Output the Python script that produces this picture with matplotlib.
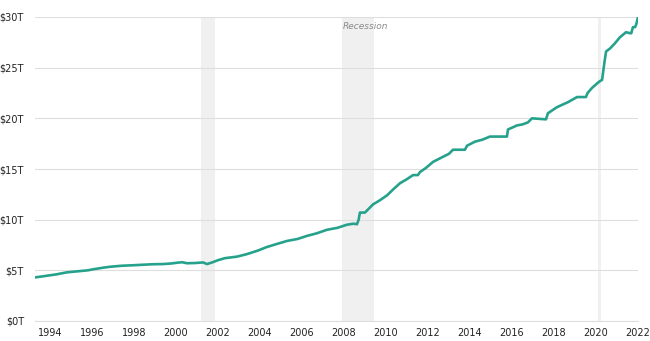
import matplotlib
matplotlib.use('Agg')
from matplotlib import pyplot as plt
from matplotlib.ticker import FuncFormatter

# total public debt, trillions of dollars
years = [
    1993.29, 1993.8, 1994.3, 1994.8, 1995.3, 1995.8, 1996.05, 1996.5, 1996.86,
    1997.4, 1997.95, 1998.4, 1998.9, 1999.4, 1999.8, 2000.05, 2000.3, 2000.52,
    2000.9, 2001.29, 2001.48, 2001.75, 2002.0, 2002.33, 2002.9, 2003.38,
    2003.9, 2004.33, 2004.8, 2005.29, 2005.8, 2006.24, 2006.7, 2007.19,
    2007.7, 2008.14, 2008.45, 2008.62, 2008.7, 2008.76, 2009.0, 2009.38,
    2009.7, 2010.05, 2010.35, 2010.67, 2011.0, 2011.29, 2011.52, 2011.62,
    2011.9, 2012.24, 2012.71, 2013.0, 2013.19, 2013.76, 2013.86, 2014.24,
    2014.6, 2014.95, 2015.76, 2015.81, 2016.24, 2016.5, 2016.76, 2016.95,
    2017.62, 2017.71, 2018.14, 2018.67, 2019.1, 2019.52, 2019.6, 2019.81,
    2020.14, 2020.29, 2020.4, 2020.48, 2020.67, 2020.9, 2021.14, 2021.43,
    2021.62, 2021.68, 2021.76, 2021.86, 2021.92, 2022.0,
]
debt = [
    4.3, 4.45, 4.6, 4.8, 4.9, 5.0, 5.1, 5.25, 5.35,
    5.45, 5.5, 5.55, 5.6, 5.62, 5.68, 5.75, 5.8, 5.7,
    5.72, 5.78, 5.62, 5.8, 6.0, 6.2, 6.35, 6.6,
    6.95, 7.3, 7.6, 7.9, 8.1, 8.4, 8.65, 9.0,
    9.2, 9.5, 9.6, 9.55, 10.0, 10.7, 10.7, 11.5,
    11.9, 12.4, 13.0, 13.6, 14.0, 14.4, 14.4, 14.7,
    15.1, 15.7, 16.2, 16.5, 16.9, 16.9, 17.3, 17.7,
    17.9, 18.2, 18.2, 18.9, 19.3, 19.4, 19.6, 20.0,
    19.9, 20.5, 21.1, 21.6, 22.1, 22.1, 22.5, 23.0,
    23.6, 23.8, 25.5, 26.6, 26.9, 27.4, 28.0, 28.5,
    28.4, 28.4, 29.0, 29.0, 29.3, 30.0,
]

recessions = [(2001.19, 2001.85), (2007.9, 2009.45), (2020.08, 2020.24)]

fig = plt.figure(figsize=(6.5, 3.41), dpi=100)
ax = fig.add_axes([35 / 650, 1 - 321 / 341, (638 - 35) / 650, (321 - 17) / 341])

for start, end in recessions:
    ax.axvspan(start, end, color='#f0f0f0', lw=0, zorder=0)
ax.text(2007.95, 29.05, 'Recession', fontsize=6.5, style='italic', color='#8a8a8a',
        ha='left', va='center')

ax.plot(years, debt, color='#26a28c', lw=1.9, solid_joinstyle='round', zorder=3)

ax.set_xlim(1993.29, 2022.0)
ax.set_ylim(0, 30)
ax.set_yticks([0, 5, 10, 15, 20, 25, 30])
ax.set_xticks(list(range(1994, 2023, 2)))
ax.yaxis.set_major_formatter(FuncFormatter(lambda v, p: '$%dT' % v))
ax.grid(axis='y', color='#dedede', lw=0.8, zorder=1)
for s in ['top', 'right', 'left']:
    ax.spines[s].set_visible(False)
ax.spines['bottom'].set_color('#dedede')
ax.tick_params(length=0, labelsize=7, colors='#222222')
ax.tick_params(axis='y', pad=8)
ax.tick_params(axis='x', pad=5)
for lab in ax.get_xticklabels() + ax.get_yticklabels():
    lab.set_family(['Liberation Sans Narrow', 'DejaVu Sans'])
ax.set_facecolor('white')

fig.savefig('out.png', dpi=100)
